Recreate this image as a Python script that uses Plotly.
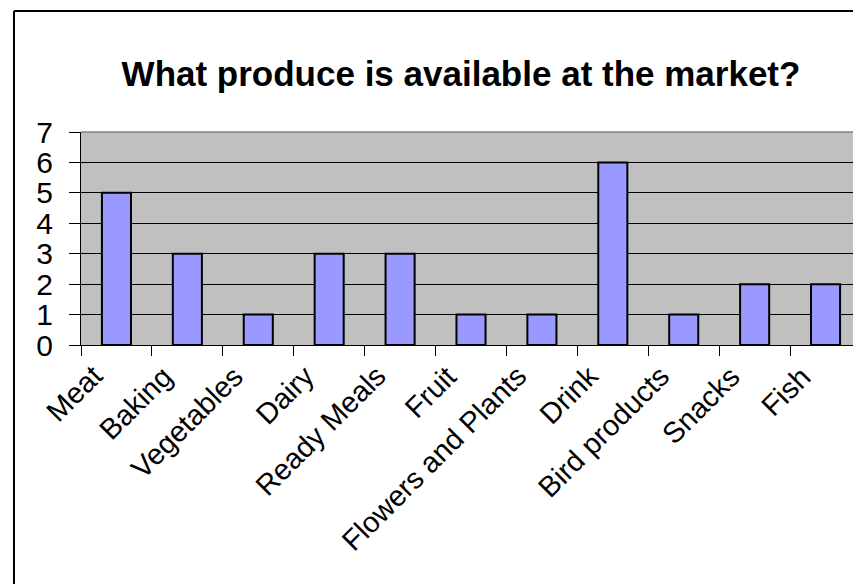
import plotly.graph_objects as go

categories = ["Meat", "Baking", "Vegetables", "Dairy", "Ready Meals", "Fruit",
              "Flowers and Plants", "Drink", "Bird products", "Snacks", "Fish"]
values = [5, 3, 1, 3, 3, 1, 1, 6, 1, 2, 2]
y_ticks = [0, 1, 2, 3, 4, 5, 6, 7]

FONT = "Arial, Liberation Sans, sans-serif"

fig = go.Figure(go.Bar(
    x=categories, y=values,
    marker=dict(color="#9999FF", line=dict(color="black", width=2)),
    width=0.41,
))

W, H = 861, 584
L, R, T, B = 73, 8, 124, 247
pw, ph = W - L - R, H - T - B

def px_x(p):
    return (p - L) / pw

def px_y(p):
    return (H - B - p) / ph

# category labels, rotated, anchored at their upper-right end below each bar
for c in categories:
    fig.add_annotation(x=c, y=0, xref="x", yref="y", text=c, showarrow=False,
                       textangle=-45, xanchor="right", yanchor="top",
                       xshift=-6, yshift=-12,
                       font=dict(family=FONT, size=29, color="black"))

fig.update_layout(
    width=W, height=H,
    margin=dict(l=L, r=R, t=T, b=B, autoexpand=False),
    paper_bgcolor="white",
    plot_bgcolor="#C0C0C0",
    showlegend=False,
    title=dict(text="<b>What produce is available at the market?</b>",
               font=dict(family=FONT, size=35, color="black"),
               x=453 / W, xanchor="center", y=1 - 66 / H, yanchor="middle"),
    font=dict(family=FONT, color="black"),
)
fig.update_xaxes(
    type="category", range=[-0.5, len(categories) - 0.5],
    tickson="boundaries", ticks="outside", ticklen=10, tickcolor="black", tickwidth=1,
    showticklabels=False,
    showline=True, linecolor="black", linewidth=1,
    showgrid=False, mirror=False,
)
fig.update_yaxes(
    range=[0, 7], tickvals=y_ticks, ticks="outside", ticklen=11, tickcolor="black",
    tickfont=dict(family=FONT, size=30, color="black"),
    ticklabelstandoff=10,
    showline=True, linecolor="black", linewidth=1,
    showgrid=True, gridcolor="black", gridwidth=1,
    zeroline=False,
)
# plot-area border: gray top and right edges
fig.add_shape(type="line", xref="paper", yref="paper", x0=0, x1=1, y0=1, y1=1,
              line=dict(color="#808080", width=1.5), layer="above")
fig.add_shape(type="line", xref="paper", yref="paper", x0=1, x1=1, y0=0, y1=1,
              line=dict(color="#808080", width=1.5), layer="above")
# chart outer border (left + top visible)
fig.add_shape(type="line", xref="paper", yref="paper",
              x0=px_x(6), x1=px_x(6), y0=px_y(3), y1=px_y(600),
              line=dict(color="black", width=2))
fig.add_shape(type="line", xref="paper", yref="paper",
              x0=px_x(6), x1=px_x(870), y0=px_y(3), y1=px_y(3),
              line=dict(color="black", width=2))

fig.write_html("out.html")
